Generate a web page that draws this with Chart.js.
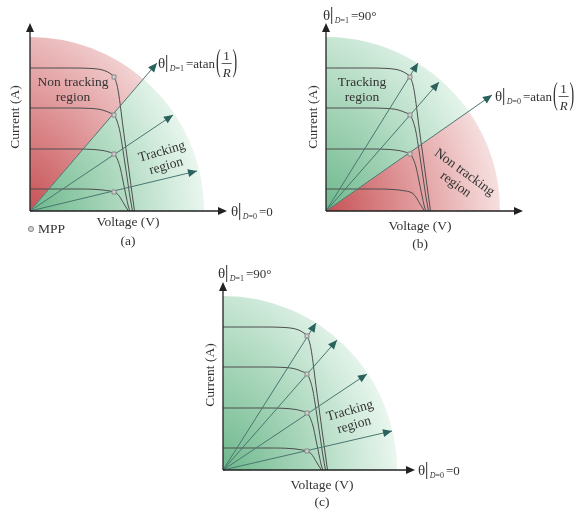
<!DOCTYPE html>
<html lang="en">
<head>
<meta charset="UTF-8">
<title>PV tracking regions</title>
<script src="https://cdn.jsdelivr.net/npm/chart.js"></script>
<style>
  body { margin: 0; background: #fff; width: 576px; height: 511px; position: relative; overflow: hidden; }
  canvas { position: absolute; }
</style>
</head>
<body>
<canvas id="chartA" width="300" height="255" style="left:0;top:0"></canvas>
<canvas id="chartB" width="280" height="255" style="left:296px;top:0"></canvas>
<canvas id="chartC" width="300" height="256" style="left:193px;top:255px"></canvas>

<script>
// I-V curves (voltage, current) for four irradiance levels
const curve1 = [[0,143],[40,143],[60,142.6],[70,141.6],[76,139.8],[80,137.6],[84,134],[87,126],[89,115],[91,100],[93,84],[96,62],[99,40],[102,18],[104.5,0]];
const curve2 = [[0,103],[40,103],[60,102.6],[70,101.6],[76,99.8],[80,98.2],[84,96],[87,90],[90,79],[92,67],[94,54],[97,34],[100,14],[102.5,0]];
const curve3 = [[0,62],[45,62],[62,61.6],[72,60.6],[79,59],[84,57],[87,52.5],[90,44],[92,35],[94,25],[96.5,13],[98.5,4],[100,0]];
const curve4 = [[0,22],[45,22],[62,21.8],[72,21.1],[79,20.1],[84,19],[88,16.4],[91,12.2],[94,7],[96.5,3],[98.5,0]];
const curves = [curve1, curve2, curve3, curve4];

// maximum power points
const mppV = [84, 84, 84, 84];
const mppI = [134, 96, 57, 19];

// load lines through the MPPs (end points of the arrows)
const raysA = [[127,148],[143,96],[167,40]];
const raysB = [[92,148],[113,129],[166,116]];
const raysC = [[93,147],[114,130],[144,96],[169,39]];

const arcRadius = 174;
const xAxisEnd = [197, 197, 192];
const yAxisEnd = 188;

const serif = '"Liberation Serif", "Times New Roman", Times, serif';
const inkColor = '#333';
const rayColor = 'rgb(74,118,112)';
const headColor = 'rgb(44,98,92)';

const redStops = [[0,'rgb(198,82,86)'],[0.5,'rgb(224,152,154)'],[1,'rgb(246,222,222)']];
const greenStops = [[0,'rgb(110,184,140)'],[0.5,'rgb(170,215,188)'],[1,'rgb(232,246,238)']];

const panels = {};

function arrowHead(ctx, x0, y0, x1, y1, len, half, color) {
  const a = Math.atan2(y1 - y0, x1 - x0);
  ctx.save();
  ctx.translate(x1, y1);
  ctx.rotate(a);
  ctx.beginPath();
  ctx.moveTo(0, 0);
  ctx.lineTo(-len, -half);
  ctx.lineTo(-len, half);
  ctx.closePath();
  ctx.fillStyle = color;
  ctx.fill();
  ctx.restore();
}

function label(ctx, str, x, y, size, rot) {
  ctx.save();
  ctx.translate(x, y);
  if (rot) ctx.rotate(rot * Math.PI / 180);
  ctx.font = size + 'px ' + serif;
  ctx.fillStyle = inkColor;
  ctx.textAlign = 'center';
  ctx.textBaseline = 'middle';
  ctx.fillText(str, 0, 0);
  ctx.restore();
}

function twoLines(ctx, l1, l2, cx, cy, rot) {
  ctx.save();
  ctx.translate(cx, cy);
  ctx.rotate(rot * Math.PI / 180);
  label(ctx, l1, 0, -7.5, 13.5, 0);
  label(ctx, l2, 0, 7.5, 13.5, 0);
  ctx.restore();
}

// tall thin bracket: a normal glyph stretched vertically
function bracket(ctx, ch, x, y) {
  ctx.save();
  ctx.translate(x, y);
  ctx.scale(1, 2.2);
  ctx.font = '14px ' + serif;
  ctx.textAlign = 'left';
  ctx.textBaseline = 'middle';
  ctx.fillText(ch, 0, 0);
  ctx.restore();
  ctx.font = '14px ' + serif;
  return ctx.measureText(ch).width;
}

// θ|_{D=k} = ...  (x = left edge, y = vertical centre)
function thetaLabel(ctx, x, y, sub, rhs) {
  ctx.save();
  ctx.fillStyle = inkColor;
  ctx.strokeStyle = inkColor;
  ctx.textBaseline = 'alphabetic';
  ctx.textAlign = 'left';
  ctx.font = '15px ' + serif;
  ctx.fillText('θ', x, y + 5);
  let cx = x + ctx.measureText('θ').width + 1.5;
  ctx.lineWidth = 1;
  ctx.beginPath();
  ctx.moveTo(cx, y - 8);
  ctx.lineTo(cx, y + 9);
  ctx.stroke();
  cx += 3;
  ctx.font = 'italic 8px ' + serif;
  ctx.fillText('D', cx, y + 8);
  cx += ctx.measureText('D').width;
  ctx.font = '8px ' + serif;
  ctx.fillText('=' + sub, cx, y + 8);
  cx += ctx.measureText('=' + sub).width + 2;
  ctx.font = '13px ' + serif;
  if (rhs === 'atan') {
    ctx.fillText('=atan', cx, y + 4.5);
    cx += ctx.measureText('=atan').width + 1;
    cx += bracket(ctx, '(', cx, y);
    ctx.font = '13px ' + serif;
    ctx.textAlign = 'center';
    ctx.fillText('1', cx + 6, y - 3);
    ctx.font = 'italic 13px ' + serif;
    ctx.fillText('R', cx + 6, y + 14);
    ctx.lineWidth = 0.8;
    ctx.beginPath();
    ctx.moveTo(cx + 1, y + 0.5);
    ctx.lineTo(cx + 11, y + 0.5);
    ctx.stroke();
    bracket(ctx, ')', cx + 12, y);
  } else {
    ctx.fillText(rhs, cx, y + 4.5);
  }
  ctx.restore();
}

function mppMarker(ctx, x, y) {
  ctx.save();
  ctx.fillStyle = '#d2d2d2';
  ctx.strokeStyle = '#8a8a8a';
  ctx.lineWidth = 1;
  ctx.beginPath();
  ctx.arc(x, y, 2.6, 0, Math.PI * 2);
  ctx.fill();
  ctx.stroke();
  ctx.restore();
}

const decor = {
  id: 'decor',
  beforeDatasetsDraw(chart) {
    const p = panels[chart.canvas.id];
    const ctx = chart.ctx;
    const xs = chart.scales.x, ys = chart.scales.y;
    const ox = xs.getPixelForValue(0), oy = ys.getPixelForValue(0);
    const r = xs.getPixelForValue(arcRadius) - ox;
    let sectors;
    if (p.boundary == null) {
      sectors = [[0, Math.PI / 2, p.low]];
    } else {
      const b = p.rays[p.boundary];
      const cut = Math.atan2(b[1], b[0]);
      sectors = [[0, cut, p.low], [cut, Math.PI / 2, p.high]];
    }
    sectors.forEach(([a0, a1, stops]) => {
      const g = ctx.createRadialGradient(ox, oy, 0, ox - 100, oy + 20, r + 100);
      stops.forEach(([t, c]) => g.addColorStop(t, c));
      ctx.save();
      ctx.beginPath();
      ctx.moveTo(ox, oy);
      ctx.arc(ox, oy, r, -a1, -a0);
      ctx.closePath();
      ctx.fillStyle = g;
      ctx.fill();
      ctx.restore();
    });
  },
  afterDatasetsDraw(chart) {
    const p = panels[chart.canvas.id];
    const ctx = chart.ctx;
    const xs = chart.scales.x, ys = chart.scales.y;
    const ox = xs.getPixelForValue(0), oy = ys.getPixelForValue(0);

    // arrow heads of the load lines
    p.rays.forEach(t => {
      arrowHead(ctx, ox, oy, xs.getPixelForValue(t[0]), ys.getPixelForValue(t[1]), 9, 4, headColor);
    });

    // axes
    const xe = xs.getPixelForValue(p.xEnd), ye = ys.getPixelForValue(yAxisEnd);
    ctx.save();
    ctx.strokeStyle = '#222';
    ctx.lineWidth = 1.3;
    ctx.beginPath();
    ctx.moveTo(ox, oy);
    ctx.lineTo(xe - 4, oy);
    ctx.moveTo(ox, oy);
    ctx.lineTo(ox, ye + 4);
    ctx.stroke();
    ctx.restore();
    arrowHead(ctx, ox, oy, xe, oy, 9, 4, '#222');
    arrowHead(ctx, ox, oy, ox, ye, 9, 4, '#222');

    label(ctx, 'Current (A)', p.cur[0], p.cur[1], 13.5, -90);
    label(ctx, 'Voltage (V)', p.volt[0], p.volt[1], 13.5, 0);
    label(ctx, p.tag, p.volt[0], p.tagY, 13.5, 0);
    p.regions.forEach(g => twoLines(ctx, g[0], g[1], g[2], g[3], g[4]));
    p.thetas.forEach(t => thetaLabel(ctx, t[0], t[1], t[2], t[3]));
    if (p.legend) {
      mppMarker(ctx, p.legend[0], p.legend[1]);
      ctx.save();
      ctx.font = '13.5px ' + serif;
      ctx.fillStyle = inkColor;
      ctx.textBaseline = 'middle';
      ctx.fillText('MPP', p.legend[0] + 7, p.legend[1] + 0.5);
      ctx.restore();
    }
  }
};

function makePanel(id, cfg) {
  panels[id] = cfg;
  const canvas = document.getElementById(id);
  const datasets = [];
  datasets.push({
    data: cfg.mpp.map(i => ({ x: mppV[i], y: mppI[i] })),
    showLine: false,
    pointStyle: 'rect',
    pointRadius: 2.8,
    pointBackgroundColor: '#d0d0d0',
    pointBorderColor: '#888',
    pointBorderWidth: 1,
    order: 0,
    clip: false
  });
  curves.forEach(c => datasets.push({
    data: c.map(([x, y]) => ({ x, y })),
    showLine: true,
    pointRadius: 0,
    borderColor: '#4e4e4e',
    borderWidth: 1,
    cubicInterpolationMode: 'monotone',
    order: 2,
    clip: false
  }));
  cfg.rays.forEach(t => datasets.push({
    data: [{ x: 0, y: 0 }, { x: t[0], y: t[1] }],
    showLine: true,
    pointRadius: 0,
    borderColor: rayColor,
    borderWidth: 1,
    order: 1,
    clip: false
  }));

  new Chart(canvas, {
    type: 'scatter',
    data: { datasets },
    options: {
      responsive: false,
      animation: false,
      events: [],
      layout: { padding: { left: 30, right: canvas.width - 230, top: cfg.oy - 200, bottom: canvas.height - cfg.oy } },
      scales: {
        x: { type: 'linear', display: false, min: 0, max: 200 },
        y: { type: 'linear', display: false, min: 0, max: 200 }
      },
      plugins: { legend: { display: false }, tooltip: { enabled: false } }
    },
    plugins: [decor]
  });
}

makePanel('chartA', {
  oy: 211, rays: raysA, boundary: 0, low: greenStops, high: redStops,
  mpp: [0, 1, 2, 3], xEnd: xAxisEnd[0],
  cur: [15, 117], volt: [128, 222], tag: '(a)', tagY: 241,
  regions: [['Non tracking', 'region', 73, 89.5, 0], ['Tracking', 'region', 164, 159, -16]],
  thetas: [[158, 63, '1', 'atan'], [231, 211, '0', '=0']],
  legend: [31, 229]
});

makePanel('chartB', {
  oy: 211, rays: raysB, boundary: 2, low: redStops, high: greenStops,
  mpp: [0, 1, 2], xEnd: xAxisEnd[1],
  cur: [17, 117], volt: [124, 226], tag: '(b)', tagY: 244,
  regions: [['Tracking', 'region', 66, 89.5, 0], ['Non tracking', 'region', 164, 178.5, 36]],
  thetas: [[27, 15, '1', '=90°'], [199, 96, '0', 'atan']],
  legend: null
});

makePanel('chartC', {
  oy: 215, rays: raysC, boundary: null, low: greenStops, high: null,
  mpp: [0, 1, 2, 3], xEnd: xAxisEnd[2],
  cur: [17, 120], volt: [129, 230], tag: '(c)', tagY: 247,
  regions: [['Tracking', 'region', 159, 163, -16]],
  thetas: [[25, 18, '1', '=90°'], [225, 215, '0', '=0']],
  legend: null
});
</script>
</body>
</html>
